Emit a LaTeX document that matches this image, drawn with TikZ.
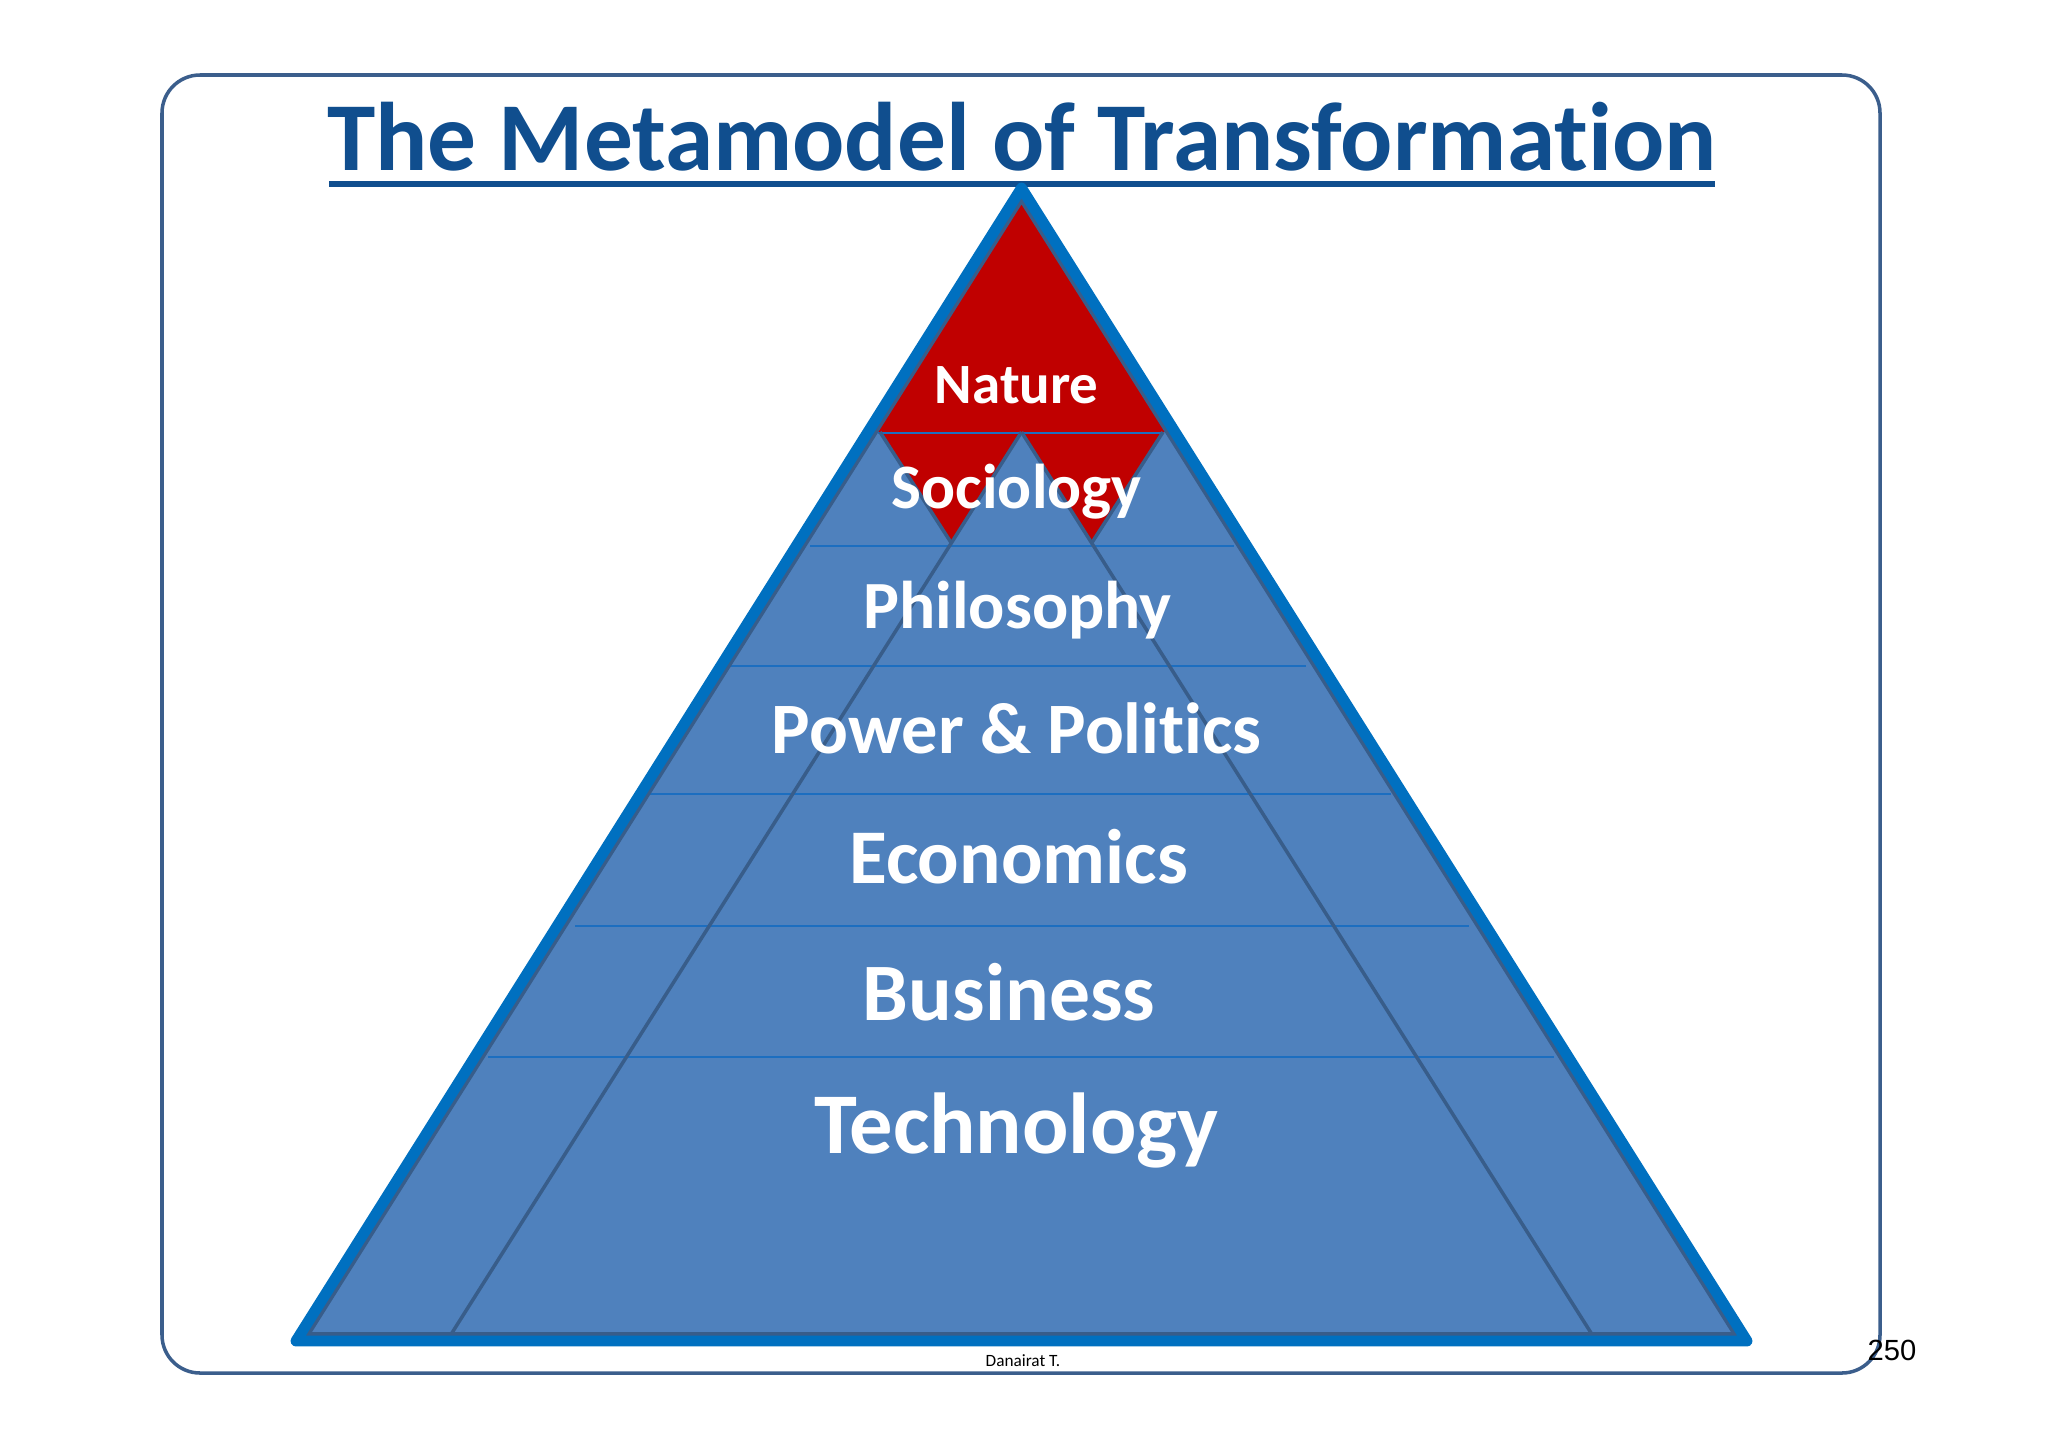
\documentclass[tikz,border=0pt]{standalone}
\usepackage{fontspec}
\setmainfont[Ligatures={NoCommon}]{Carlito}
\newfontfamily\arialfont{Liberation Sans}
\definecolor{framec}{RGB}{59,94,140}
\definecolor{titlec}{RGB}{16,78,142}
\definecolor{pyrfill}{RGB}{79,129,189}
\definecolor{pyrdark}{RGB}{56,93,138}
\definecolor{pyrblue}{RGB}{0,112,192}
\definecolor{redc}{RGB}{192,0,0}
\definecolor{thinline}{RGB}{28,110,192}
\tikzset{
  lbl/.style={anchor=base, text=white, font=\bfseries, inner sep=0pt},
  tier/.style={draw=thinline, line width=0.6pt},
  diag/.style={draw=pyrdark, line width=1pt},
}
\begin{document}
\begin{tikzpicture}[x=0.01cm,y=-0.01cm]
\useasboundingbox (0,0) rectangle (2048,1448);
% frame
\draw[framec, line width=1pt, rounded corners=0.38cm] (162,75) rectangle (1880,1373);
% title
\node[anchor=base, inner sep=0pt, text=titlec, font=\fontsize{27.7}{32}\selectfont\bfseries] (title) at (1022,170) {The Metamodel of Transformation};
\coordinate (ulL) at (329,184);
\coordinate (ulR) at (1715,184);
\draw[titlec, line width=1.7pt] (ulL) -- (ulR);
% pyramid
\coordinate (apex) at (1021.5,188);
\coordinate (bl) at (296,1341);
\coordinate (br) at (1747,1341);
\fill[pyrfill] (apex) -- (bl) -- (br) -- cycle;
% red top
\coordinate (rl) at (868,432);
\coordinate (rr) at (1175,432);
\coordinate (rm) at (1021.5,432);
\coordinate (dl) at (880,432);
\coordinate (dr) at (1163,432);
\coordinate (tl) at (951.3,543);
\coordinate (tr) at (1091.7,543);
\fill[redc] (apex) -- (rl) -- (rr) -- cycle;
\fill[redc] (dl) -- (rm) -- (tl) -- cycle;
\fill[redc] (rm) -- (dr) -- (tr) -- cycle;
% tier lines
\draw[tier] (878,433) -- (1163,433);
\draw[tier] (810,546) -- (1234,546);
\draw[tier] (725,666) -- (1306,666);
\draw[tier] (649,794) -- (1391,794);
\draw[tier] (575,926) -- (1469,926);
\draw[tier] (488,1057) -- (1554,1057);
% diagonals
\coordinate (bdl) at (450,1336);
\coordinate (bdr) at (1593,1336);
\draw[diag] (rm) -- (bdl);
\draw[diag] (rm) -- (bdr);
\draw[diag] (dl) -- (tl);
\draw[diag] (dr) -- (tr);
% borders
\begin{scope}
\clip (apex) -- (bl) -- (br) -- cycle;
\draw[pyrdark, line width=5pt] (apex) -- (bl) -- (br) -- cycle;
\end{scope}
\draw[pyrblue, line width=3.1pt, line join=round] (apex) -- (bl) -- (br) -- cycle;
% labels
\node[lbl, font=\fontsize{16.2}{19}\selectfont\bfseries] (nature) at (1016.7,403) {Nature};
\node[lbl, font=\fontsize{18}{21}\selectfont\bfseries] (sociology) at (1016.7,508) {Sociology};
\node[lbl, font=\fontsize{19.2}{22}\selectfont\bfseries] (philosophy) at (1017.5,628) {Philosophy};
\node[lbl, font=\fontsize{20.6}{24}\selectfont\bfseries] (power) at (1016.8,753) {Power \& Politics};
\node[lbl, font=\fontsize{22}{25}\selectfont\bfseries] (economics) at (1018.5,883) {Economics};
\node[lbl, font=\fontsize{23.2}{27}\selectfont\bfseries] (business) at (1009,1020) {Business};
\node[lbl, font=\fontsize{24.6}{29}\selectfont\bfseries] (technology) at (1016.5,1153) {Technology};
% footer
\node[anchor=base, inner sep=0pt, font=\fontsize{4.9}{6}\selectfont] (author) at (1023,1366) {Danairat T.};
\node[anchor=base, inner sep=0pt, font=\arialfont\fontsize{8.3}{10}\selectfont] (page) at (1892,1360) {250};
\end{tikzpicture}
\end{document}
